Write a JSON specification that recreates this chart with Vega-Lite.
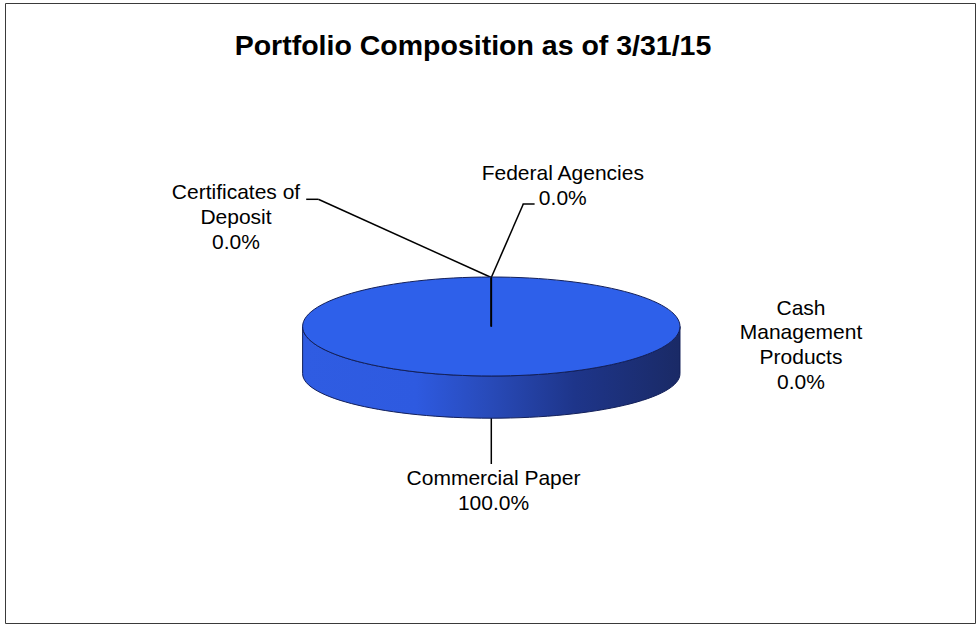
{
  "$schema": "https://vega.github.io/schema/vega-lite/v6.json",
  "width": 979,
  "height": 628,
  "autosize": {"type": "fit", "contains": "padding"},
  "padding": {"left": 5, "top": 3, "right": 4, "bottom": 5},
  "background": "white",
  "config": {
    "view": {"stroke": "#3a3a3a", "strokeWidth": 1},
    "font": "Liberation Sans"
  },
  "title": {
    "text": "Portfolio Composition as of 3/31/15",
    "font": "Liberation Sans",
    "fontSize": 28.5,
    "fontWeight": "bold",
    "color": "black",
    "anchor": "middle",
    "dx": -17,
    "offset": -57
  },
  "data": {
    "values": [
      {"category": "Certificates of Deposit", "value": 0},
      {"category": "Federal Agencies", "value": 0},
      {"category": "Cash Management Products", "value": 0},
      {"category": "Commercial Paper", "value": 100}
    ]
  },
  "transform": [{"window": [{"op": "row_number", "as": "idx"}]}],
  "resolve": {"scale": {"x": "independent", "y": "independent"}},
  "layer": [
    {
      "transform": [{"filter": "datum.category != 'Cash Management Products'"}],
      "mark": {"type": "rule", "color": "black", "strokeWidth": 1.5},
      "encoding": {
        "x": {"field": "idx", "type": "quantitative", "axis": null,
              "scale": {"domain": [1, 2, 4, 5], "range": [313.3, 518.3, 486.3, 486.3], "nice": false, "zero": false}},
        "x2": {"datum": 5},
        "y": {"field": "idx", "type": "quantitative", "axis": null,
              "scale": {"domain": [1, 2, 4, 5], "range": [196.3, 201, 461, 274.5], "nice": false, "zero": false}},
        "y2": {"datum": 5}
      }
    },
    {
      "transform": [{"filter": "datum.category == 'Certificates of Deposit' || datum.category == 'Federal Agencies'"}],
      "mark": {"type": "tick", "orient": "horizontal", "size": 12, "thickness": 1.5, "color": "black", "opacity": 1},
      "encoding": {
        "x": {"field": "idx", "type": "quantitative", "axis": null,
              "scale": {"domain": [1, 2], "range": [307.2, 523.6], "nice": false, "zero": false}},
        "y": {"field": "idx", "type": "quantitative", "axis": null,
              "scale": {"domain": [1, 2], "range": [196.3, 201], "nice": false, "zero": false}}
      }
    },
    {
      "transform": [{"filter": "datum.value > 0"}],
      "mark": {
        "type": "point",
        "shape": "M-1,0L-1,0.25C-1,0.3803,-0.5523,0.486,0,0.486C0.5523,0.486,1,0.3803,1,0.25L1,0C1,0.1449,0.5523,0.2623,0,0.2623C-0.5523,0.2623,-1,0.1449,-1,0Z",
        "filled": true,
        "opacity": 1,
        "fill": {
          "gradient": "linear",
          "x1": 0, "y1": 0, "x2": 1, "y2": 0,
          "stops": [
            {"offset": 0, "color": "#2F5CE2"},
            {"offset": 0.3, "color": "#2E5AE0"},
            {"offset": 0.5, "color": "#284AB8"},
            {"offset": 0.72, "color": "#1E358A"},
            {"offset": 1, "color": "#1A2A66"}
          ]
        },
        "stroke": "#13205A",
        "strokeWidth": 1,
        "xOffset": 1.3,
        "yOffset": 13.5
      },
      "encoding": {
        "size": {"field": "value", "type": "quantitative", "legend": null,
                 "scale": {"domain": [0, 100], "range": [0, 142431]}}
      }
    },
    {
      "transform": [{"filter": "datum.value > 0"}],
      "mark": {
        "type": "point",
        "shape": "M-1,0C-1,-0.1449,-0.5523,-0.2623,0,-0.2623C0.5523,-0.2623,1,-0.1449,1,0C1,0.1449,0.5523,0.2623,0,0.2623C-0.5523,0.2623,-1,0.1449,-1,0Z",
        "filled": true,
        "opacity": 1,
        "fill": "#2E60EA",
        "stroke": "#13205A",
        "strokeWidth": 1,
        "xOffset": 1.3,
        "yOffset": 13.5
      },
      "encoding": {
        "size": {"field": "value", "type": "quantitative", "legend": null,
                 "scale": {"domain": [0, 100], "range": [0, 142431]}}
      }
    },
    {
      "mark": {"type": "arc", "outerRadius": 49, "innerRadius": 0, "fillOpacity": 0, "stroke": "black", "strokeWidth": 1.5, "xOffset": 1.3, "yOffset": 13.5},
      "encoding": {
        "theta": {"field": "value", "type": "quantitative", "stack": true},
        "strokeOpacity": {"condition": {"test": "datum.value == 0", "value": 1}, "value": 0}
      }
    },
    {
      "transform": [
        {"calculate": "split((datum.category == 'Certificates of Deposit' ? 'Certificates of|Deposit' : datum.category == 'Cash Management Products' ? 'Cash|Management|Products' : datum.category) + '|' + format(datum.value / 100, '.1%'), '|')", "as": "label"}
      ],
      "mark": {"type": "text", "font": "Liberation Sans", "fontSize": 21, "color": "black", "align": "center", "baseline": "alphabetic", "lineHeight": 24.8},
      "encoding": {
        "x": {"field": "idx", "type": "quantitative", "axis": null,
              "scale": {"domain": [1, 2, 3, 4], "range": [231, 557.8, 796, 488.5], "nice": false, "zero": false}},
        "y": {"field": "idx", "type": "quantitative", "axis": null,
              "scale": {"domain": [1, 2, 3, 4], "range": [196.3, 177, 311.5, 482], "nice": false, "zero": false}},
        "text": {"field": "label", "type": "nominal"}
      }
    }
  ]
}
